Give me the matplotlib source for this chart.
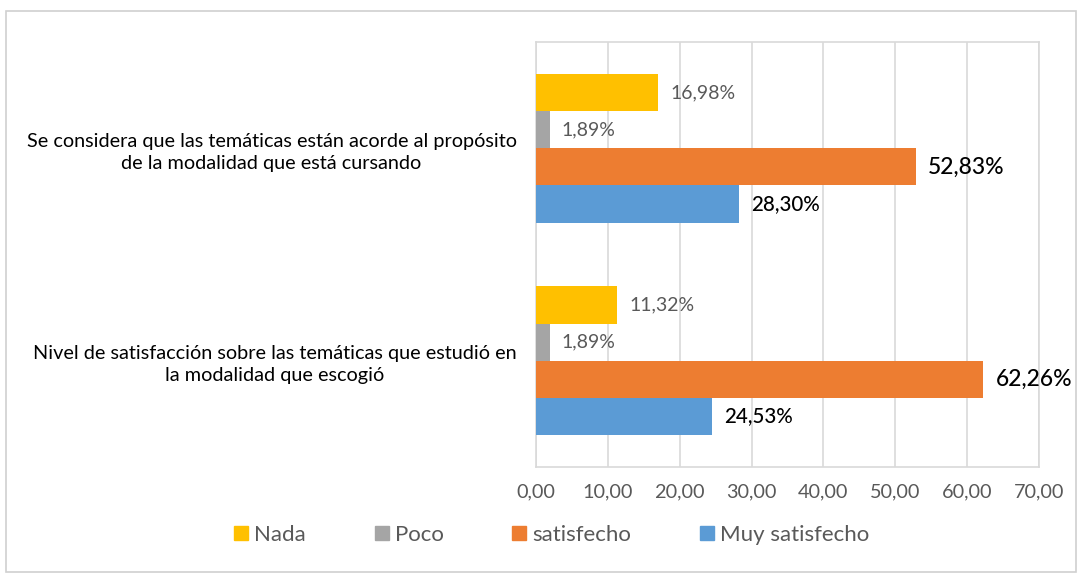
import matplotlib
matplotlib.use("Agg")
import matplotlib.pyplot as plt
from matplotlib.patches import Rectangle
from matplotlib.lines import Line2D

categories = [
    "Se considera que las temáticas están acorde al propósito\nde la modalidad que está cursando",
    "Nivel de satisfacción sobre las temáticas que estudió en\nla modalidad que escogió",
]
series_names = ["Nada", "Poco", "satisfecho", "Muy satisfecho"]
nada = [16.98, 11.32]
poco = [1.89, 1.89]
satisfecho = [52.83, 62.26]
muy_satisfecho = [28.30, 24.53]
xticks = [0, 10, 20, 30, 40, 50, 60, 70]

series = [nada, poco, satisfecho, muy_satisfecho]
colors = ["#FFC000", "#A5A5A5", "#ED7D31", "#5B9BD5"]
lab_colors = ["#595959", "#595959", "#000000", "#000000"]
lab_sizes = [14, 14, 16.5, 14.8]
lab_weights = ["normal", "normal", "medium", "medium"]

plt.rcParams['font.family'] = ['Lato', 'DejaVu Sans']

fig = plt.figure(figsize=(10.82, 5.76), dpi=100)
W, H = 1082, 576
ax = fig.add_axes([536 / W, 1 - 467 / H, (1039 - 536) / W, (467 - 42) / H])

# outer chart border
fig.patches.append(Rectangle((6 / W, 1 - 572 / H), (1076 - 6) / W, (572 - 11) / H,
                             transform=fig.transFigure, fill=False,
                             edgecolor="#d0d0d0", linewidth=1.2))

h = 0.175
offsets = [-1.5 * h, -0.5 * h, 0.5 * h, 1.5 * h]
for s, vals in enumerate(series):
    ys = [i + offsets[s] for i in range(len(categories))]
    bars = ax.barh(ys, vals, height=h, color=colors[s], label=series_names[s], zorder=3)
    for b, v in zip(bars, vals):
        ax.annotate(f"{v:.2f}%".replace(".", ","),
                    (b.get_width(), b.get_y() + b.get_height() / 2),
                    xytext=(12, 0), textcoords="offset pixels",
                    va="center", ha="left", fontsize=lab_sizes[s],
                    color=lab_colors[s], fontweight=lab_weights[s])

ax.set_xlim(0, 70)
ax.set_ylim(1.5, -0.5)
ax.set_xticks(xticks)
ax.set_xticklabels([f"{t:.2f}".replace(".", ",") for t in xticks], fontsize=14.3, color="#595959")
ax.set_yticks(range(len(categories)))
ax.set_yticklabels(categories, fontsize=14.3, color="#000000", multialignment="center",
                   linespacing=1.35)
ax.tick_params(axis="y", length=0, pad=14)
ax.tick_params(axis="x", length=0, pad=12)
ax.grid(axis="x", color="#d9d9d9", linewidth=1.2, zorder=0)
for sp in ax.spines.values():
    sp.set_color("#d9d9d9")
    sp.set_linewidth(1.2)

handles = [Line2D([], [], marker="s", linestyle="none", markersize=10,
                  markerfacecolor=c, markeredgecolor=c) for c in colors]
fig.legend(handles, series_names, loc="center", bbox_to_anchor=(552 / W, 1 - 535 / H),
           ncol=4, frameon=False, fontsize=16, labelcolor="#595959",
           handlelength=0.6, handletextpad=0.3, columnspacing=3.1)

fig.savefig("out.png", dpi=100)
